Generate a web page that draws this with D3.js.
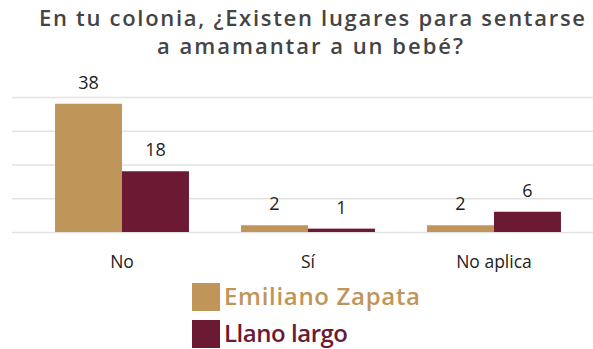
<!DOCTYPE html>
<html><head><meta charset="utf-8">
<script src="https://cdn.jsdelivr.net/npm/d3@7"></script>
<style>body{margin:0;background:#fff}svg{display:block}</style>
</head><body>
<svg id="c" width="593" height="349"></svg>
<script>
const categories = ["No", "Sí", "No aplica"];
const seriesNames = ["Emiliano Zapata", "Llano largo"];
const emilianoZapata = [38, 2, 2];
const llanoLargo = [18, 1, 6];
const yTicks = [0, 10, 20, 30, 40];
const titleLines = ["En tu colonia, ¿Existen lugares para sentarse", "a amamantar a un bebé?"];
const colors = ["#BF955A", "#6C1A33"];

const svg = d3.select("#c");
const font = "'Open Sans', sans-serif";
const y = d3.scaleLinear().domain([0, 40]).range([232, 97]);
const x0 = d3.scaleBand().domain(categories).range([29, 587]).paddingInner(0.28).paddingOuter(0.14);
const x1 = d3.scaleBand().domain(seriesNames).range([0, x0.bandwidth()]);

// grid
svg.append("g").selectAll("line").data(yTicks).join("line")
  .attr("x1", 12).attr("x2", 593)
  .attr("y1", d => y(d) + 0.5).attr("y2", d => y(d) + 0.5)
  .attr("stroke", "#e3e3e3").attr("stroke-width", 1.5);

// title
const titleWidths = [546, 306];
svg.append("g").selectAll("text").data(titleLines).join("text")
  .attr("x", (d, i) => i === 0 ? 312 : 310)
  .attr("y", (d, i) => 26 + i * 28)
  .attr("text-anchor", "middle")
  .attr("textLength", (d, i) => titleWidths[i]).attr("lengthAdjust", "spacing")
  .attr("font-family", font).attr("font-weight", 600).attr("font-size", 22)
  .attr("fill", "#444").text(d => d);

const series = [emilianoZapata, llanoLargo];
const data = [];
categories.forEach((c, ci) => series.forEach((s, si) => data.push({c, s: seriesNames[si], si, v: s[ci]})));

svg.append("g").selectAll("rect").data(data).join("rect")
  .attr("x", d => x0(d.c) + x1(d.s))
  .attr("y", d => y(d.v))
  .attr("width", x1.bandwidth())
  .attr("height", d => y(0) - y(d.v))
  .attr("fill", d => colors[d.si]);

svg.append("g").selectAll("text").data(data).join("text")
  .attr("x", d => x0(d.c) + x1(d.s) + x1.bandwidth() / 2)
  .attr("y", d => y(d.v) - 15)
  .attr("text-anchor", "middle")
  .attr("font-family", font).attr("font-size", 18)
  .attr("fill", "#222").text(d => d.v);

// x axis labels
const xAxis = d3.axisBottom(x0).tickSize(0).tickPadding(0);
const gx = svg.append("g").attr("transform", "translate(0,268)").call(xAxis);
gx.select(".domain").remove();
gx.selectAll("text").attr("font-family", font).attr("font-size", 17.5).attr("fill", "#222").attr("dy", 0);

// legend
const legendWidths = [196, 124];
const lg = svg.append("g").selectAll("g").data(seriesNames).join("g")
  .attr("transform", (d, i) => `translate(192,${283 + i * 37})`);
lg.append("rect").attr("width", 28).attr("height", 28).attr("fill", (d, i) => colors[i]);
lg.append("text").attr("x", 32).attr("y", 22)
  .attr("textLength", (d, i) => legendWidths[i]).attr("lengthAdjust", "spacing")
  .attr("font-family", font).attr("font-weight", 600).attr("font-size", 24)
  .attr("fill", (d, i) => colors[i]).text(d => d);
</script>
</body></html>
